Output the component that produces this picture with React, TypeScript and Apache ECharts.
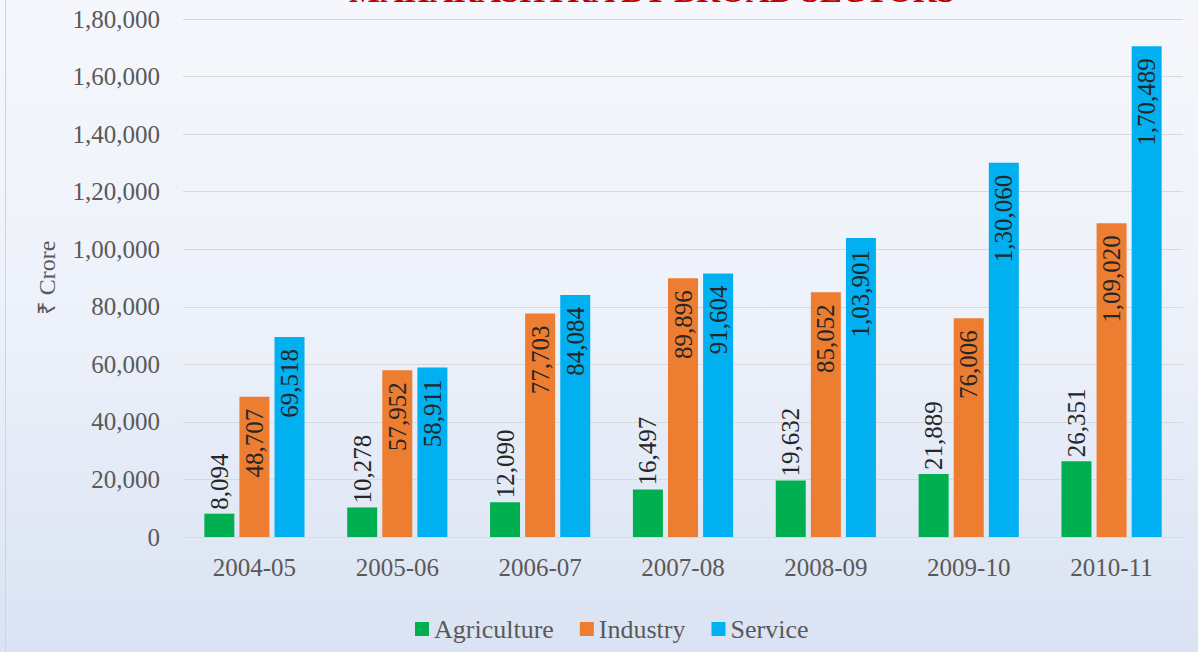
import React, { useEffect, useRef } from "react";
import * as echarts from "echarts";

const categories = ["2004-05", "2005-06", "2006-07", "2007-08", "2008-09", "2009-10", "2010-11"];
const agriculture = [8094, 10278, 12090, 16497, 19632, 21889, 26351];
const industry = [48707, 57952, 77703, 89896, 85052, 76006, 109020];
const service = [69518, 58911, 84084, 91604, 103901, 130060, 170489];
const titleText = "MAHARASHTRA BY BROAD SECTORS";
const yAxisName = "₹ Crore";

function inr(n: number): string {
  const s = Math.round(n).toString();
  if (s.length <= 3) return s;
  const last3 = s.slice(-3);
  const rest = s.slice(0, -3).replace(/\B(?=(\d{2})+(?!\d))/g, ",");
  return rest + "," + last3;
}

const FONT = "Liberation Serif, serif";

export default function App() {
  const ref = useRef<HTMLDivElement>(null);
  useEffect(() => {
    if (!ref.current) return;
    const chart = echarts.init(ref.current, undefined, { renderer: "svg" });
    const insideLabel = {
      show: true,
      position: "insideTop",
      rotate: 90,
      align: "right",
      verticalAlign: "middle",
      distance: 12,
      fontFamily: FONT,
      fontSize: 25,
      color: "#262626",
      formatter: (p: any) => inr(p.value),
    };
    const topLabel = {
      show: true,
      position: "top",
      rotate: 90,
      align: "left",
      verticalAlign: "middle",
      distance: 4,
      fontFamily: FONT,
      fontSize: 25,
      color: "#262626",
      formatter: (p: any) => inr(p.value),
    };
    chart.setOption({
      animation: false,
      textStyle: { fontFamily: FONT },
      graphic: [
        {
          type: "text",
          x: 652,
          y: 7.5,
          style: {
            text: titleText,
            fontFamily: FONT,
            fontWeight: "bold",
            fontSize: 33,
            fill: "#c00000",
            textAlign: "center",
            textVerticalAlign: "bottom",
          },
        },
        {
          type: "line",
          shape: { x1: 5.5, y1: 0, x2: 5.5, y2: 652 },
          style: { stroke: "#d0d3d9", lineWidth: 1 },
        },
      ],
      grid: { left: 183, right: 15, top: 19, bottom: 115 },
      legend: {
        bottom: 5,
        left: 410,
        itemWidth: 14,
        itemHeight: 14,
        itemGap: 26,
        icon: "rect",
        textStyle: { fontFamily: FONT, fontSize: 26, color: "#595959" },
        data: ["Agriculture", "Industry", "Service"],
      },
      xAxis: {
        type: "category",
        data: categories,
        axisTick: { show: false },
        axisLine: { lineStyle: { color: "#d9d9d9", width: 1 } },
        axisLabel: { fontFamily: FONT, fontSize: 25, color: "#595959", margin: 18 },
      },
      yAxis: {
        type: "value",
        min: 0,
        max: 180000,
        interval: 20000,
        name: yAxisName,
        nameLocation: "middle",
        nameGap: 124,
        nameRotate: 90,
        nameTextStyle: { fontFamily: FONT, fontSize: 24, color: "#595959" },
        axisLine: { show: false },
        axisTick: { show: false },
        splitLine: { lineStyle: { color: "#d9d9d9", width: 1 } },
        axisLabel: {
          fontFamily: FONT,
          fontSize: 25,
          color: "#595959",
          margin: 23,
          formatter: (v: number) => inr(v),
        },
      },
      series: [
        {
          name: "Agriculture",
          type: "bar",
          data: agriculture,
          barWidth: 30,
          barGap: "17%",
          itemStyle: { color: "#00b050" },
          label: topLabel,
        },
        {
          name: "Industry",
          type: "bar",
          data: industry,
          barWidth: 30,
          barGap: "17%",
          itemStyle: { color: "#ed7d31" },
          label: insideLabel,
        },
        {
          name: "Service",
          type: "bar",
          data: service,
          barWidth: 30,
          barGap: "17%",
          itemStyle: { color: "#00b0f0" },
          label: insideLabel,
        },
      ],
    });
    return () => chart.dispose();
  }, []);
  return (
    <div
      ref={ref}
      style={{
        position: "absolute",
        left: 0,
        top: 0,
        width: 1198,
        height: 652,
        background: "linear-gradient(180deg, #f5f7fc 0%, #eef2fa 45%, #dae3f3 100%)",
      }}
    />
  );
}
